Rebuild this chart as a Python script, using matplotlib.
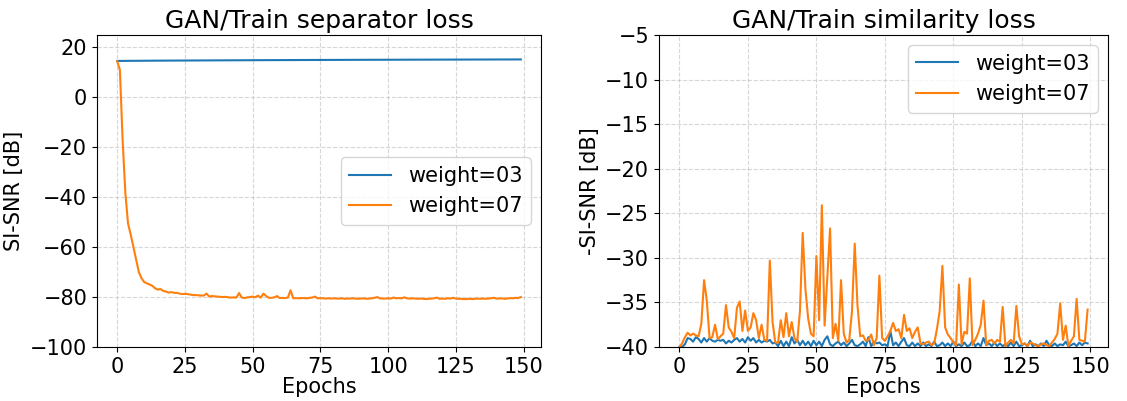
import numpy as np
import matplotlib
matplotlib.use("Agg")
import matplotlib.pyplot as plt

# valores (epocas 0..149)
epocas = list(range(150))

sep_w03 = [14.6, 14.6, 14.62, 14.63, 14.64, 14.65, 14.66, 14.66, 14.67, 14.68,
           14.68, 14.69, 14.70, 14.70, 14.71, 14.72, 14.72, 14.73, 14.74, 14.74,
           14.75, 14.75, 14.76, 14.77, 14.77, 14.78, 14.78, 14.79, 14.79, 14.80,
           14.80, 14.81, 14.81, 14.82, 14.82, 14.83, 14.83, 14.84, 14.84, 14.85,
           14.85, 14.86, 14.86, 14.87, 14.87, 14.88, 14.88, 14.89, 14.89, 14.90,
           14.90, 14.91, 14.91, 14.92, 14.92, 14.92, 14.93, 14.93, 14.94, 14.94,
           14.95, 14.95, 14.95, 14.96, 14.96, 14.97, 14.97, 14.97, 14.98, 14.98,
           14.99, 14.99, 14.99, 15.00, 15.00, 15.01, 15.01, 15.01, 15.02, 15.02,
           15.02, 15.03, 15.03, 15.03, 15.04, 15.04, 15.04, 15.05, 15.05, 15.05,
           15.06, 15.06, 15.06, 15.07, 15.07, 15.07, 15.08, 15.08, 15.08, 15.09,
           15.09, 15.09, 15.09, 15.10, 15.10, 15.10, 15.11, 15.11, 15.11, 15.11,
           15.12, 15.12, 15.12, 15.12, 15.13, 15.13, 15.13, 15.13, 15.14, 15.14,
           15.14, 15.14, 15.15, 15.15, 15.15, 15.15, 15.16, 15.16, 15.16, 15.16,
           15.17, 15.17, 15.17, 15.17, 15.17, 15.18, 15.18, 15.18, 15.18, 15.19,
           15.19, 15.19, 15.19, 15.19, 15.20, 15.20, 15.20, 15.20, 15.21, 15.21]

sep_w07 = [14.5, 11.0, -17.0, -38.0, -50.5, -55.0, -60.0, -65.0, -70.0, -72.5,
           -74.0, -74.5, -75.0, -75.5, -76.5, -77.0, -76.8, -77.5, -77.8, -78.2,
           -78.0, -78.3, -78.3, -78.6, -78.8, -78.7, -78.8, -79.0, -79.2, -79.2,
           -79.3, -79.4, -79.4, -78.6, -79.8, -79.6, -79.7, -79.8, -79.9, -80.0,
           -79.9, -80.1, -80.2, -80.1, -80.2, -78.4, -80.2, -80.4, -80.1, -80.0,
           -79.8, -80.1, -79.4, -80.2, -78.6, -79.6, -80.3, -80.3, -80.1, -79.6,
           -80.4, -80.3, -80.4, -80.2, -77.3, -80.5, -80.4, -80.5, -80.4, -80.4,
           -80.5, -80.3, -80.2, -79.8, -80.5, -80.4, -80.5, -80.6, -80.5, -80.6,
           -80.5, -80.6, -80.6, -80.5, -80.7, -80.6, -80.6, -80.5, -80.6, -80.7,
           -80.6, -80.5, -80.7, -80.6, -80.5, -80.3, -80.0, -80.5, -80.6, -80.6,
           -80.5, -80.6, -80.2, -80.5, -80.4, -80.5, -80.1, -80.5, -80.6, -80.5,
           -80.6, -80.7, -80.6, -80.7, -80.8, -80.7, -80.6, -80.5, -80.2, -80.7,
           -80.6, -80.7, -80.5, -80.6, -80.3, -80.6, -80.7, -80.7, -80.8, -80.8,
           -80.7, -80.8, -80.7, -80.6, -80.7, -80.6, -80.7, -80.6, -80.5, -80.3,
           -80.6, -80.6, -80.5, -80.7, -80.6, -80.4, -80.5, -80.3, -80.4, -80.0]

sim_w03 = [-40.0, -40.0, -39.7, -39.0, -39.1, -39.4, -38.9, -39.1, -39.5, -39.0,
           -39.4, -39.0, -39.3, -39.4, -39.2, -39.3, -39.2, -39.6, -39.3, -39.5,
           -39.2, -39.0, -39.4, -39.1, -39.5, -38.9, -39.3, -39.0, -39.5, -39.2,
           -39.5, -39.3, -39.4, -39.2, -39.6, -39.5, -39.9, -39.3, -39.9, -39.4,
           -39.9, -38.9, -39.6, -39.2, -39.8, -39.3, -39.8, -39.4, -39.9, -39.3,
           -39.8, -39.4, -39.9, -39.2, -38.8, -39.7, -39.9, -39.6, -39.4, -39.8,
           -39.5, -39.9, -39.6, -39.2, -39.8, -39.9, -39.7, -39.4, -39.9, -38.9,
           -39.9, -39.4, -39.6, -39.5, -39.8, -39.7, -39.9, -38.2, -39.8, -39.5,
           -39.9, -39.4, -39.0, -39.8, -39.9, -39.5, -39.9, -39.6, -39.9, -39.5,
           -39.9, -39.7, -39.9, -39.4, -39.9, -39.8, -39.5, -39.9, -39.6, -39.9,
           -39.4, -39.9, -39.7, -39.9, -39.5, -39.9, -39.8, -39.3, -39.9, -39.6,
           -39.9, -39.0, -39.8, -39.6, -39.9, -39.5, -39.9, -39.6, -39.9, -39.7,
           -39.9, -39.5, -39.9, -39.4, -39.9, -39.8, -39.6, -39.9, -39.3, -39.9,
           -39.7, -39.9, -39.6, -39.9, -39.3, -39.8, -39.9, -39.6, -39.9, -39.7,
           -39.8, -39.4, -39.9, -39.8, -39.6, -39.9, -39.5, -39.8, -39.5, -39.6]

sim_w07 = [-40.0, -39.6, -38.9, -38.4, -38.7, -38.5, -38.7, -38.8, -37.4, -32.5,
           -34.8, -39.0, -38.9, -37.5, -39.1, -38.8, -38.5, -35.3, -37.8, -38.3,
           -39.0, -35.6, -34.9, -38.2, -35.9, -38.2, -37.8, -36.2, -37.0, -39.0,
           -37.5, -39.2, -39.3, -30.3, -37.2, -39.5, -39.5, -37.0, -38.9, -36.2,
           -38.8, -37.2, -39.0, -39.4, -36.0, -27.2, -33.5, -36.8, -38.5, -38.8,
           -29.8, -37.0, -24.1, -37.6, -32.2, -26.7, -39.0, -37.4, -39.3, -32.5,
           -38.5, -39.5, -39.2, -36.0, -28.4, -35.3, -38.8, -38.7, -39.3, -39.2,
           -38.6, -39.8, -39.0, -32.0, -39.0, -39.3, -38.8, -38.2, -37.3, -38.2,
           -38.0, -39.0, -36.4, -38.2, -37.9, -39.0, -38.3, -37.8, -39.6, -39.7,
           -39.5, -39.4, -39.8, -39.6, -38.0, -36.0, -30.9, -37.8, -38.6, -39.0,
           -39.5, -39.8, -33.0, -39.7, -38.3, -38.5, -32.3, -39.8, -39.2, -38.5,
           -37.5, -34.8, -39.8, -39.3, -39.2, -39.6, -39.2, -39.4, -35.5, -39.9,
           -39.5, -39.2, -39.6, -35.4, -38.8, -39.7, -39.6, -39.9, -39.5, -39.6,
           -39.8, -39.9, -39.7, -39.6, -39.8, -39.9, -39.5, -39.1, -38.5, -35.1,
           -39.2, -37.6, -39.9, -39.3, -38.8, -34.6, -39.2, -39.3, -39.4, -35.8]

plt.rcParams['font.size'] = 15

fig, (ax1, ax2) = plt.subplots(1, 2, figsize=(11.27, 4.01), dpi=100)

# --- separator loss ---
ax1.plot(epocas, sep_w03, color='tab:blue', linewidth=1.5, label='weight=03')
ax1.plot(epocas, sep_w07, color='tab:orange', linewidth=1.5, label='weight=07')
ax1.set_ylim(-100, 25)
ax1.set_xticks([0, 25, 50, 75, 100, 125, 150])
ax1.set_title('GAN/Train separator loss', pad=5)
ax1.set_xlabel('Epochs', labelpad=0)
ax1.set_ylabel('SI-SNR [dB]')
ax1.grid(True, linestyle='--', alpha=0.5)
ax1.legend(loc='center right')

# --- similarity loss ---
ax2.plot(epocas, sim_w03, color='tab:blue', linewidth=1.5, label='weight=03')
ax2.plot(epocas, sim_w07, color='tab:orange', linewidth=1.5, label='weight=07')
ax2.set_ylim(-40, -5)
ax2.set_xticks([0, 25, 50, 75, 100, 125, 150])
ax2.set_title('GAN/Train similarity loss', pad=5)
ax2.set_xlabel('Epochs', labelpad=0)
ax2.set_ylabel('-SI-SNR [dB]')
ax2.grid(True, linestyle='--', alpha=0.5)
ax2.legend(loc='upper right')

# posicoes em pixels (largura 1127, altura 401)
W, H = 1127, 401
ax1.set_position([97 / W, (H - 347) / H, (541 - 97) / W, (347 - 35) / H])
ax2.set_position([659 / W, (H - 347) / H, (1108 - 659) / W, (347 - 35) / H])

plt.savefig('out.png', dpi=100)
